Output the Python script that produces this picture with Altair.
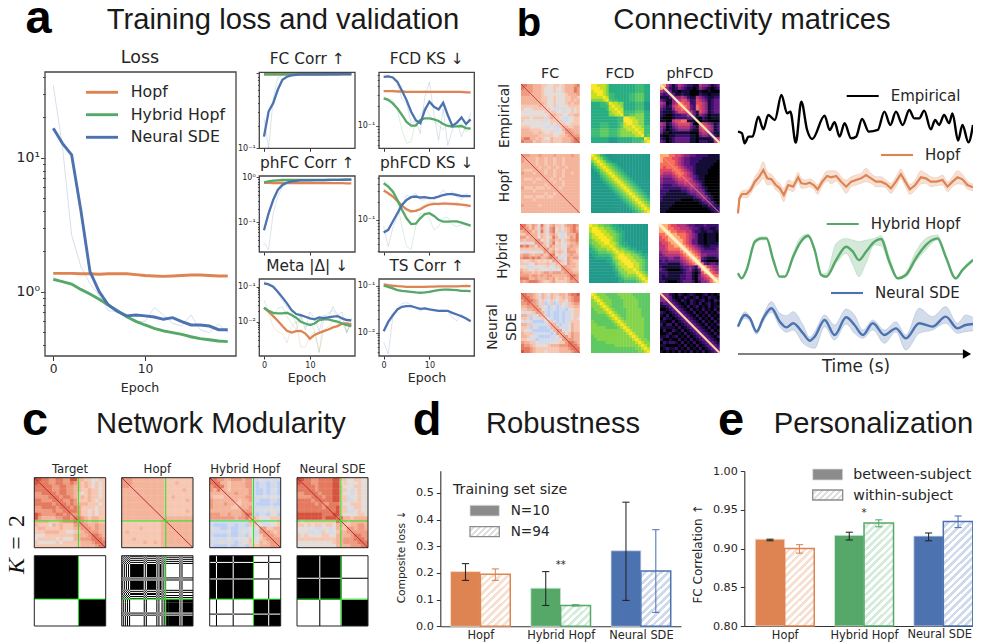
import altair as alt

ORANGE, GREEN, BLUE = "#dd8452", "#55a868", "#4c72b0"
PALE = {ORANGE: "#f8e0d1", GREEN: "#d5ebdb", BLUE: "#cfdaec", "#8c8c8c": "#e0e0e0"}
SANS, HEAD = "DejaVu Sans", "Liberation Sans"

epochs = list(range(20))

# ---- panel a: loss ----
loss_hopf = [1.37,1.37,1.37,1.36,1.36,1.35,1.36,1.36,1.36,1.34,1.32,1.31,1.30,1.31,1.32,1.33,1.33,1.32,1.31,1.31]
loss_hyb = [1.236,1.19,1.14,1.04,0.96,0.877,0.795,0.72,0.65,0.6,0.564,0.533,0.509,0.494,0.48,0.461,0.446,0.438,0.428,0.424]
loss_ns = [16.6,12.8,10.5,4.07,1.41,1.0,0.795,0.71,0.66,0.67,0.66,0.647,0.622,0.64,0.597,0.564,0.564,0.554,0.52,0.52]
loss_ns_raw = [34.8,12.1,2.65,1.54,1.15,0.94,0.72,0.71,0.65,0.6,0.6,0.76,0.67,0.58,0.554,0.67,0.52,0.494,0.574,0.494]
loss_hyb_raw = [1.3,1.18,1.12,1.03,0.95,0.87,0.79,0.71,0.65,0.59,0.56,0.53,0.5,0.49,0.48,0.45,0.44,0.43,0.42,0.43]
loss_hopf_raw = [1.38,1.36,1.38,1.35,1.35,1.33,1.37,1.36,1.36,1.33,1.29,1.32,1.29,1.31,1.33,1.33,1.34,1.31,1.32,1.30]

# ---- panel a: validation metrics (smoothed / raw) ----
fc_ns = [0.143,0.308,0.398,0.6,0.815,0.893,0.931,0.95,0.96,0.96,0.96,0.96,0.96,0.965,0.965,0.965,0.965,0.97,0.97,0.97]
fc_ns_raw = [0.25,0.1,0.45,0.87,0.93,0.97,0.96,0.95,0.97,0.96,0.95,0.94,0.96,0.97,0.96,0.97,0.96,0.98,0.97,0.97]
fc_hopf = [0.965]*20
fc_hyb = [0.96,0.96,0.96,0.96,0.96,0.96,0.96,0.96,0.96,0.96,0.96,0.96,0.96,0.96,0.97,0.97,0.97,0.97,0.97,0.97]

fcd_ns = [0.562,0.57,0.55,0.471,0.343,0.247,0.164,0.122,0.109,0.174,0.233,0.195,0.178,0.225,0.146,0.099,0.111,0.134,0.106,0.125]
fcd_ns_raw = [0.56,0.6,0.53,0.44,0.26,0.22,0.11,0.12,0.076,0.277,0.47,0.146,0.06,0.18,0.05,0.086,0.12,0.068,0.1,0.158]
fcd_hopf = [0.34,0.34,0.34,0.335,0.335,0.33,0.33,0.33,0.33,0.33,0.33,0.33,0.33,0.33,0.33,0.33,0.33,0.33,0.325,0.325]
fcd_hopf_raw = [0.35,0.33,0.36,0.33,0.35,0.32,0.34,0.33,0.32,0.34,0.33,0.32,0.34,0.33,0.32,0.34,0.33,0.32,0.33,0.32]
fcd_hyb = [0.262,0.25,0.22,0.184,0.146,0.114,0.1,0.1,0.122,0.13,0.13,0.125,0.118,0.106,0.099,0.097,0.098,0.099,0.092,0.09]
fcd_hyb_raw = [0.28,0.26,0.25,0.17,0.086,0.054,0.057,0.12,0.146,0.195,0.146,0.122,0.1,0.086,0.108,0.097,0.097,0.108,0.081,0.094]

phfc_ns = [0.067,0.158,0.313,0.523,0.676,0.76,0.815,0.83,0.857,0.86,0.86,0.865,0.87,0.87,0.875,0.875,0.88,0.88,0.885,0.887]
phfc_ns_raw = [0.035,0.025,0.158,0.37,0.62,0.74,0.82,0.84,0.86,0.85,0.87,0.86,0.88,0.87,0.88,0.87,0.89,0.88,0.89,0.88]
phfc_hopf = [0.75,0.75,0.748,0.748,0.748,0.745,0.745,0.745,0.745,0.745,0.74,0.74,0.74,0.74,0.74,0.74,0.74,0.74,0.736,0.736]
phfc_hyb = [0.775,0.815,0.843,0.857,0.873,0.873,0.873,0.873,0.873,0.873,0.873,0.873,0.873,0.873,0.873,0.88,0.88,0.887,0.887,0.887]

phfcd_ns = [0.0615,0.068,0.094,0.129,0.178,0.215,0.239,0.245,0.236,0.239,0.23,0.232,0.245,0.26,0.268,0.268,0.26,0.25,0.248,0.248]
phfcd_ns_raw = [0.077,0.036,0.073,0.114,0.167,0.26,0.24,0.278,0.215,0.215,0.245,0.215,0.245,0.317,0.26,0.297,0.245,0.215,0.278,0.245]
phfcd_hopf = [0.308,0.278,0.245,0.207,0.173,0.15,0.139,0.141,0.15,0.167,0.18,0.185,0.185,0.187,0.187,0.185,0.182,0.18,0.176,0.17]
phfcd_hopf_raw = [0.34,0.26,0.25,0.2,0.16,0.14,0.13,0.15,0.16,0.18,0.2,0.2,0.17,0.2,0.18,0.17,0.2,0.18,0.16,0.17]
phfcd_hyb = [0.408,0.359,0.297,0.215,0.147,0.106,0.085,0.086,0.106,0.125,0.129,0.116,0.1,0.093,0.093,0.094,0.094,0.09,0.085,0.08]
phfcd_hyb_raw = [0.46,0.4,0.245,0.19,0.077,0.036,0.032,0.077,0.129,0.129,0.106,0.068,0.077,0.106,0.11,0.083,0.077,0.083,0.083,0.077]

meta_ns = [0.1245,0.116,0.1,0.072,0.0496,0.0334,0.0215,0.0166,0.0155,0.0139,0.01245,0.0117,0.0133,0.0127,0.0133,0.0139,0.0145,0.01245,0.0112,0.0109]
meta_ns_raw = [0.14,0.125,0.1,0.064,0.04,0.026,0.019,0.0088,0.0155,0.0058,0.019,0.0127,0.0053,0.0155,0.0127,0.027,0.0155,0.019,0.0046,0.0127]
meta_hopf = [0.025,0.0193,0.0145,0.0107,0.0075,0.0055,0.0049,0.0054,0.0055,0.0046,0.0033,0.0042,0.0048,0.0054,0.006,0.0069,0.0075,0.0088,0.009,0.0084]
meta_hopf_raw = [0.027,0.0173,0.0072,0.0052,0.0046,0.0025,0.0072,0.01,0.0019,0.0019,0.0039,0.0052,0.0014,0.0058,0.0072,0.01,0.009,0.0134,0.0052,0.0084]
meta_hyb = [0.025,0.0206,0.018,0.0173,0.0173,0.018,0.0155,0.013,0.01,0.0089,0.008,0.0089,0.0111,0.0117,0.0117,0.0107,0.01,0.0089,0.008,0.0075]
meta_hyb_raw = [0.042,0.0193,0.0155,0.0241,0.027,0.0139,0.009,0.0058,0.0139,0.0072,0.009,0.0058,0.0013,0.0139,0.0173,0.0215,0.0139,0.009,0.0052,0.009]

ts_ns = [0.0109,0.0171,0.0237,0.0314,0.0357,0.0369,0.0369,0.0346,0.0324,0.033,0.0314,0.0304,0.0294,0.0294,0.0294,0.0266,0.0246,0.0226,0.0202,0.0177]
ts_ns_raw = [0.0064,0.0036,0.022,0.034,0.042,0.044,0.039,0.033,0.029,0.033,0.031,0.031,0.03,0.031,0.029,0.021,0.018,0.025,0.021,0.018]
ts_hopf = [0.107,0.103,0.1,0.098,0.097,0.095,0.095,0.095,0.095,0.095,0.096,0.096,0.097,0.097,0.097,0.097,0.097,0.098,0.099,0.098]
ts_hyb = [0.1,0.095,0.088,0.081,0.078,0.076,0.074,0.072,0.071,0.072,0.074,0.078,0.081,0.083,0.083,0.082,0.081,0.078,0.078,0.077]
ts_hyb_raw = [0.105,0.09,0.085,0.08,0.075,0.08,0.07,0.075,0.07,0.07,0.08,0.075,0.085,0.08,0.09,0.08,0.08,0.075,0.08,0.07]

# ---- panel b: time series (t in s, arbitrary amplitude) ----
emp_t = [0,2,3.3,5.3,7.3,10.2,12.7,15.2,18.5,21.8,24.7,26.3,29,31.8,34.7,37.3,43.5,46,48.5,51,53.5,56.8,59.3,62.3,65.7,70.2,73.5,76.5,79.3,82.7,86,88.5,91,93.5,96.8,99,101,103.5,106,107.7,110.5,112.7,115.7,118]
emp_v = [.35,.30,0,.2,.2,.8,.42,.85,.7,1.45,.9,.95,.02,1.25,.4,.13,.83,.4,.63,.2,.6,.15,.2,.73,.35,.4,.95,.55,.95,.55,1.0,.75,.75,.98,.42,.7,.55,.85,.6,.9,.08,.55,.03,.55]
hopf_t = [0,.7,2,4.3,6.3,8.5,10.7,12.7,14.7,16.8,19,21,23,25.2,27.7,30.2,31.8,34,36,38,40,42.3,44.7,46.8,49.3,51.8,54.3,56.8,59.3,61.8,64.3,66.8,69.3,71.8,74.3,76.8,79.3,81.8,84,86.3,89,91.8,94.3,96.8,99.7,102.7,105.2,107.7,110.2,112.7,115.2,118]
hopf_v = [0,.45,.58,.58,.7,.95,1.1,1.3,1.05,1.02,.85,.75,.55,.85,.8,1.08,.9,.88,.92,.85,.72,.95,1.12,1.08,1.12,.95,.8,.95,1.0,1.05,1.15,1.05,.95,.95,.88,.75,.95,1.18,.95,.72,.85,1.08,1.05,.95,.95,1.0,.8,.95,1.08,1.02,.85,.78]
hopf_b = [0,.1,.1,.12,.12,.15,.2,.25,.2,.15,.15,.15,.2,.15,.15,.15,.15,.12,.12,.12,.15,.12,.15,.2,.15,.15,.2,.15,.15,.15,.2,.15,.15,.15,.12,.15,.15,.15,.15,.15,.15,.2,.15,.15,.12,.15,.15,.15,.2,.15,.12,.1]
hyb_t = [0,1.8,4.3,8.5,11.8,14.3,17.7,21,23.5,27.7,31,35.2,38.5,41.8,44.3,49.3,54.3,57.7,60.7,64.3,68.5,71.8,76,80.2,84.3,89.3,94.3,100.2,104.3,109.3,112.7,118]
hyb_v = [.2,.05,.3,1.15,1.25,1.25,.6,.1,.1,.7,1.1,1.33,.9,.15,.1,.6,1.0,.85,.6,.85,1.15,1.23,.55,.05,.15,.65,1.05,1.25,.7,.05,.3,.6]
hyb_hi = [.03,.03,.03,.05,.05,.05,.05,.03,.03,.1,.15,.05,.05,.03,.1,.5,.25,.35,.55,.35,.1,.1,.15,.03,.08,.2,.2,.1,.05,.03,.05,.05]
hyb_lo = [.03,.03,.03,.05,.05,.05,.05,.03,.03,.05,.05,.05,.05,.03,.03,.1,.2,.4,.5,.35,.1,.2,.1,.03,.05,.1,.15,.05,.05,.03,.05,.05]
ns_t = [0,3.5,6,9.3,12.7,16.8,21,24.3,27.7,32.7,36,38.5,43.5,48.5,54.3,58.5,62.7,67.7,73.5,79.3,84.3,91,97.7,104.3,110.2,114.3,118]
ns_v = [.6,.95,.85,.45,.85,1.15,.75,.58,.7,.4,.18,.3,.8,.35,.88,.65,.35,.7,.35,.55,.25,.7,.6,.9,.55,.65,.68]
ns_hi = [.03,.1,.05,.05,.1,.2,.25,.35,.35,.25,.1,.15,.15,.3,.25,.3,.15,.1,.15,.2,.1,.45,.3,.3,.15,.3,.2]
ns_lo = [.03,.1,.1,.08,.1,.12,.15,.15,.2,.3,.2,.35,.2,.15,.2,.25,.1,.2,.25,.1,.35,.3,.1,.2,.15,.2,.2]

# ---- panel b: matrices, upper triangles as digit levels 0-9 ----
fc_emp = ["96554443322332344456","9554443222322344465","954443222322344465","94443222222234445","9443322322233443",
 "943322322233434","94322322234344","9322312223333","932112122323","93322122323","9433223344","932112233","93112233","9322333","943344","95444","9544","955","96","9"]
fc_hopf_m = ["95544454444544444544","9444344344344344444","944344344344344444","94344344344344444","9434434434434444",
 "944344344344444","94344344344344","9444344344444","943443444444","94344344444","9444344444","943444444","94444444","9444444","944444","94444","9444","944","94","9"]
fc_hyb_m = ["96435426324533245565","9535315325623234564","953426315623134565","94424324532124446","9424323642123546",
 "952324534234556","95314623213445","9425433224544","953423125443","94534325553","9623214544","951125455","94315433","9325443","954443","95433","9544","965","95","9"]
fc_ns_m = ["96554324324334435667","9654314314323434566","965423123123324566","95413013013213455","9531201201213344",
 "952101101102233","94101001011233","9301001011233","921001011232","93101011333","9410112433","941112433","95212433","9423544","953544","95544","9654","965","96","9"]
fcd_emp = ["99888744444444455544","9988744444444455544","998744444444455544","98755444445566644","9855444445566644","965544445566644",
 "98877444455533","9887444455533","988444455533","98555566644","9556677744","998877744","99887744","9887744","988755","98855","9855","956","98","9"]
fcd_hopf_m = ["98754333333333333333","9875433333333333333","987543333333333333","98765433333333333","9876543333333333","987654333333333",
 "98765433333333","9876543333333","987654333333","98765433333","9876543333","987654333","98765433","9876543","987654","98765","9876","987","98","9"]
fcd_hyb_m = ["98877665443333333333","9988776544333333333","998877654433333333","99887765433333333","9988765433333333","998765433333333",
 "98875443333333","9876544333333","987765443333","98877654433","9988776544","998877654","99887765","9988765","988765","98765","9876","987","98","9"]
fcd_ns_m = ["98777666677777666666","9877766667777766666","987776666777776666","98776666777776666","9876666777776666","987666677777666",
 "98766677777666","9876677777666","987677777766","98777777766","9877777766","987777766","98777766","9877766","987766","98776","9877","987","98","9"]
ph_emp = ["98531354322115443123","9421243211014321012","93110111000100100","9311211000211011","944542115432112","95664226543123",
 "9766226654123","976327654123","96327654123","9531654123","731432011","9102101","90110000","96543123","9654123","954123","93112","9211","95","9"]
ph_hopf_m = ["98877665443322221111","9776654332222111111","977654332221111110","97654332211111100","9765433211111000","976543211110000",
 "97654211110000","9654321100000","965321100000","95432100000","9543100000","943210000","94310000","9421000","942100","93100","9310","921","82","8"]
ph_hyb_m = ["98876655543322232222","9877665554332122112","987766655322112211","98877765431101110","9887765431101110","988765331101110",
 "98765331101111","9876543211222","987654322223","98765333333","9876443333","987321112","98210000","9732332","986544","98654","9765","977","98","9"]
ph_ns_m = ["94421021012100120101","9431010210120102110","932102102101201021","93210102102012010","9321020120102011","932102010201020",
 "93210201020102","9321020102010","932102010201","93210201020","9321020102","932102010","93210201","9321020","932102","93210","9321","932","93","9"]
# ---- panel c: FC ordered by module, then binary same-module matrix ----
ct_target = ["97665566557744332233","9665566556543432323","966556655443432323","96556655443343323","9656655432343323","965665434343323",
 "96556533343233","9656544433323","965653333233","96653323233","9553323233","965434433","95434433","9544544","954544","95544","9654","965","96","9"]
ct_hopf = ["95544444444433333333","9544444444433343333","944444444433333333","94444444433333433","9444444433333333","944444433433333",
 "94444433333343","9444433333333","944433333333","94433333343","9433333333","944444444","94444444","9444444","944444","94444","9444","944","94","9"]
ct_hyb = ["96554455545511211211","9644344445510110110","964344445510110110","94344444510010120","9445444510010110","944445511121221",
 "94344511000110","9344410000100","944511111211","95511121221","9610110220","943222333","93111223","9211223","953344","95434","9544","955","95","9"]
ct_ns = ["97665566667733223322","9665566667723222322","966566667732223322","96566667733212322","9656667732212322","965667733122322",
 "96667733112322","9566632233322","966733223322","96733112322","9732222332","964434444","94344444","9344554","954554","95555","9655","965","96","9"]
# run lengths (nodes) and module of each run along the ordered axis
bin_target = [(42,0),(26,1)]
bin_hopf = [(1,0),(1,1),(1,0),(1,1),(1,0),(1,1),(1,0),(1,1),(13,0),(1,1),(1,0),(1,1),(9,0),(1,1),(1,0),(1,1),(2,0),(1,1),(1,0),(1,1),(1,0),(3,1),(10,1),(1,0),(1,1),(1,0),(10,1)]
bin_hyb = [(6,0),(1,1),(15,0),(1,1),(19,0),(14,1),(1,0),(11,1)]
bin_ns = [(21,0),(1,1),(20,0),(25,1)]

# ---- panels d, e ----
cats = ["Hopf", "Hybrid Hopf", "Neural SDE"]
d_n10 = [0.205, 0.143, 0.283]
d_n94 = [0.195, 0.078, 0.207]
d_n10_lo = [0.172, 0.078, 0.097]
d_n10_hi = [0.235, 0.205, 0.465]
d_n94_lo = [0.172, 0.076, 0.052]
d_n94_hi = [0.215, 0.081, 0.362]
e_bt = [0.912, 0.917, 0.916]
e_wi = [0.900, 0.933, 0.935]
e_bt_lo = [0.910, 0.911, 0.910]
e_bt_hi = [0.912, 0.921, 0.920]
e_wi_lo = [0.894, 0.928, 0.927]
e_wi_hi = [0.905, 0.937, 0.942]

layers = []
def px(v): return v - 8
def py(v): return v - 8
W, H = 965, 636

def text(s, x, y, size, font=SANS, weight="normal", angle=0, align="center", baseline="middle", color="#262626", style="normal"):
    layers.append(alt.Chart(alt.Data(values=[{"a": 0}])).mark_text(
        text=s, font=font, fontSize=size, fontWeight=weight, angle=angle, align=align,
        baseline=baseline, color=color, fontStyle=style
    ).encode(x=alt.value(px(x)), y=alt.value(py(y))))

def hrule(x0, x1, y, color, width):
    layers.append(alt.Chart(alt.Data(values=[{"a": 0}])).mark_rule(color=color, strokeWidth=width).encode(
        x=alt.value(px(x0)), x2=alt.value(px(x1)), y=alt.value(py(y))))

def frame(x0, x1, y0, y1, color="#444444", width=1.3):
    layers.append(alt.Chart(alt.Data(values=[{"a": 0}])).mark_rect(fillOpacity=0, stroke=color, strokeWidth=width).encode(
        x=alt.value(px(x0)), x2=alt.value(px(x1)), y=alt.value(py(y0)), y2=alt.value(py(y1))))

def xs(dom, x0, x1):
    return alt.Scale(domain=dom, range=[px(x0), px(x1)], nice=False, zero=False)
def ylog(dom, y0, y1):
    return alt.Scale(type="log", domain=dom, range=[py(y0), py(y1)], nice=False, clamp=True)
def ylin(dom, y0, y1):
    return alt.Scale(domain=dom, range=[py(y0), py(y1)], nice=False, zero=False)

def line(t, v, color, sx, sy, width=2, opacity=1.0, interp="linear", xaxis=None, yaxis=None):
    d = [{"x": a, "y": b} for a, b in zip(t, v)]
    layers.append(alt.Chart(alt.Data(values=d)).mark_line(color=color, strokeWidth=width, opacity=opacity, interpolate=interp).encode(
        x=alt.X("x:Q", scale=sx, axis=xaxis), y=alt.Y("y:Q", scale=sy, axis=yaxis)))

SUP = {10: "10¹", 1: "10⁰", 0.1: "10⁻¹", 0.01: "10⁻²"}
def log_axis(x_px, major, minor, labels, size, big, small):
    lab = ":".join(f"datum.value=={k}?'{SUP[k]}'" for k in labels) + ":''" if labels else "''"
    test = "abs(log(datum.value)/LN10-round(log(datum.value)/LN10))<0.001"
    return alt.Axis(orient="left", offset=-px(x_px), values=major + minor, labelExpr=lab, title=None, grid=False,
                    domain=False, labelFont=SANS, labelFontSize=size, labelColor="#262626", tickColor="#333333",
                    tickWidth=0.9, labelPadding=1, labelFlush=False, labelOverlap=False,
                    tickSize={"condition": {"test": test, "value": big}, "value": small})
def epoch_axis(y_px, show, size, tick, vals=(0, 10)):
    return alt.Axis(orient="bottom", offset=py(y_px) - H, values=list(vals), labels=show, title=None, grid=False,
                    domain=False, labelFont=SANS, labelFontSize=size, labelColor="#262626", tickColor="#333333",
                    tickWidth=1, tickSize=tick, labelPadding=2, format="d")

def panel(x0, x1, y0, y1, xdom, ydom, series, xlabels, major, minor, labels, title, lsize=8):
    sx = xs(xdom, x0, x1)
    sy = ylog(ydom, y1, y0)
    for v, c in series["raw"]:
        line(epochs, v, c, sx, sy, width=0.8, opacity=0.25)
    first = True
    for v, c in series["main"]:
        if first:
            line(epochs, v, c, sx, sy, width=2.3, xaxis=epoch_axis(y1, xlabels, lsize, 3),
                 yaxis=log_axis(x0, major, minor, labels, lsize, 3.2, 1.8))
            first = False
        else:
            line(epochs, v, c, sx, sy, width=2.3)
    frame(x0, x1, y0, y1)
    text(title, (x0 + x1) / 2, y0 - 13, 15.4)

# ---- a ----
text("a", 38.5, 33, 47, HEAD, "bold", baseline="alphabetic", color="#000000")
text("Training loss and validation", 283, 28.5, 29.2, HEAD, baseline="alphabetic", color="#1a1a1a")
sx = xs([-0.9, 19.9], 45, 236)
sy = ylog([0.331, 43.6], 356, 72)
for v, c in [(loss_hopf_raw, ORANGE), (loss_hyb_raw, GREEN), (loss_ns_raw, BLUE)]:
    line(epochs, v, c, sx, sy, width=0.9, opacity=0.25)
line(epochs, loss_hopf, ORANGE, sx, sy, width=2.9,
     xaxis=epoch_axis(356, True, 12.3, 4.5),
     yaxis=log_axis(45, [1, 10], [.4, .5, .6, .7, .8, .9, 2, 3, 4, 5, 6, 7, 8, 9, 20, 30, 40], [1, 10], 14, 4.5, 2.5))
line(epochs, loss_hyb, GREEN, sx, sy, width=2.9)
line(epochs, loss_ns, BLUE, sx, sy, width=2.9)
frame(45, 236, 72, 356)
text("Loss", 140, 58, 17.5)
text("Epoch", 140, 388, 12.6)
for name, c, yy in [("Hopf", ORANGE, 92.3), ("Hybrid Hopf", GREEN, 114.7), ("Neural SDE", BLUE, 137.3)]:
    hrule(86, 118, yy, c, 2.9)
    text(name, 130.7, yy, 15.8, align="left")

c1 = (259.3, 355); c2 = (379, 474.3)
xd = [-1.02, 19.8]
panel(*c1, 72.3, 148.3, xd, [0.1, 1.024], dict(raw=[(fc_ns_raw, BLUE)], main=[(fc_hopf, ORANGE), (fc_hyb, GREEN), (fc_ns, BLUE)]),
      False, [0.1, 1], [.2, .3, .4, .5, .6, .7, .8, .9], [0.1], "FC Corr ↑")
panel(*c2, 72.3, 148.3, xd, [0.045, 0.66], dict(raw=[(fcd_hopf_raw, ORANGE), (fcd_hyb_raw, GREEN), (fcd_ns_raw, BLUE)], main=[(fcd_hopf, ORANGE), (fcd_hyb, GREEN), (fcd_ns, BLUE)]),
      False, [0.1], [.05, .06, .07, .08, .09, .2, .3, .4, .5, .6], [0.1], "FCD KS ↓")
panel(*c1, 176, 252, xd, [0.022, 1.07], dict(raw=[(phfc_ns_raw, BLUE)], main=[(phfc_hopf, ORANGE), (phfc_hyb, GREEN), (phfc_ns, BLUE)]),
      False, [0.1, 1], [.03, .04, .05, .06, .07, .08, .09, .2, .3, .4, .5, .6, .7, .8, .9], [1, 0.1], "phFC Corr ↑")
panel(*c2, 176, 252, xd, [0.029, 0.54], dict(raw=[(phfcd_hopf_raw, ORANGE), (phfcd_hyb_raw, GREEN), (phfcd_ns_raw, BLUE)], main=[(phfcd_hopf, ORANGE), (phfcd_hyb, GREEN), (phfcd_ns, BLUE)]),
      False, [0.1], [.03, .04, .05, .06, .07, .08, .09, .2, .3, .4, .5], [0.1], "phFCD KS ↓")
panel(*c1, 279, 356, xd, [0.00105, 0.166], dict(raw=[(meta_hopf_raw, ORANGE), (meta_hyb_raw, GREEN), (meta_ns_raw, BLUE)], main=[(meta_hopf, ORANGE), (meta_hyb, GREEN), (meta_ns, BLUE)]),
      True, [0.01, 0.1], [.002, .003, .004, .005, .006, .007, .008, .009, .02, .03, .04, .05, .06, .07, .08, .09], [0.1, 0.01], "Meta |Δ| ↓")
panel(*c2, 279, 356, xd, [0.00324, 0.139], dict(raw=[(ts_hyb_raw, GREEN), (ts_ns_raw, BLUE)], main=[(ts_hopf, ORANGE), (ts_hyb, GREEN), (ts_ns, BLUE)]),
      True, [0.01, 0.1], [.004, .005, .006, .007, .008, .009, .02, .03, .04, .05, .06, .07, .08, .09], [0.1, 0.01], "TS Corr ↑")
text("Epoch", 307, 378, 12.6)
text("Epoch", 427, 378, 12.6)

# ---- heatmaps ----
FC_R = ["#bcd0f5", "#d3daea", "#e4dcd8", "#f6c8b3", "#f4b49b", "#ee9c81", "#e47a60", "#d4543f", "#bf2a2e", "#a50f26"]
VIR_R = ["#2c728e", "#28828e", "#21908d", "#219a8a", "#27ad81", "#3cbb75", "#5ec962", "#84d44b", "#c5e021", "#fde725"]
MAG_R = ["#000004", "#140e36", "#3b0f70", "#641a80", "#8c2981", "#b73779", "#de4968", "#f7705c", "#feb078", "#fcfdbf"]
def expand(rows, n=20):
    m = [[0] * n for _ in range(n)]
    for i, r in enumerate(rows[:n]):
        r = (r + r[-1] * n)[:n - i]
        for k, ch in enumerate(r):
            m[i][i + k] = m[i + k][i] = int(ch)
    return m

def heat(rows, x0, x1, y0, y1, pal, diag=None, n=20, dw=0.9):
    m = expand(rows, n)
    if diag:
        for i in range(n):
            m[i][i] = m[i][min(i + 1, n - 1)] if i < n - 1 else m[i][i - 1]
    cells = [{"i": i, "j": j, "i2": i + 1.12, "j2": j + 1.12, "v": m[j][i]} for i in range(n) for j in range(n)]
    sx = alt.Scale(domain=[0, n], range=[px(x0), px(x1)], nice=False, zero=False, clamp=True)
    sy = alt.Scale(domain=[0, n], range=[py(y0), py(y1)], nice=False, zero=False, clamp=True)
    layers.append(alt.Chart(alt.Data(values=cells)).mark_rect(strokeWidth=0).encode(
        x=alt.X("i:Q", scale=sx, axis=None), x2="i2:Q",
        y=alt.Y("j:Q", scale=sy, axis=None), y2="j2:Q",
        color=alt.Color("v:Q", scale=alt.Scale(domain=list(range(10)), range=pal), legend=None)))
    if diag:
        sx2 = alt.Scale(domain=[0, n], range=[px(x0), px(x1)], nice=False, zero=False)
        sy2 = alt.Scale(domain=[0, n], range=[py(y0), py(y1)], nice=False, zero=False)
        line([0, n], [0, n], diag, sx2, sy2, width=dw)

cols_b = [(521, 579.7), (591, 650), (660, 719.7)]
rows_b = [(84, 143), (154, 213), (224, 283), (293, 353)]
mats_b = [[fc_emp, fcd_emp, ph_emp], [fc_hopf_m, fcd_hopf_m, ph_hopf_m], [fc_hyb_m, fcd_hyb_m, ph_hyb_m], [fc_ns_m, fcd_ns_m, ph_ns_m]]
ph_diag = [("#fbe6b4", 2.4), ("#f59a78", 0.9), ("#fcefc4", 3.2), ("#fbd9a0", 2.0)]
for ri, (y0, y1) in enumerate(rows_b):
    for ci, ((x0, x1), pal) in enumerate(zip(cols_b, [FC_R, VIR_R, MAG_R])):
        dx = (-1 if ci == 0 else -2 if ci == 1 else -1) if ri == 2 else 0
        dg, dw = ("#c2303a", 0.9) if ci == 0 else (ph_diag[ri] if ci == 2 else (None, 0.9))
        heat(mats_b[ri][ci], x0 + dx, x1 + dx, y0, y1, pal, diag=dg, dw=dw)

text("b", 529, 36, 40, HEAD, "bold", baseline="alphabetic", color="#000000")
text("Connectivity matrices", 752, 28.5, 29.2, HEAD, baseline="alphabetic", color="#1a1a1a")
for s, x in [("FC", 550), ("FCD", 620), ("phFCD", 690)]:
    text(s, x, 74, 14.2)
text("Empirical", 505, 116, 13.8, angle=270)
text("Hopf", 505, 186, 13.8, angle=270)
text("Hybrid", 503, 256, 13.8, angle=270)
text("Neural", 493, 327, 13.8, angle=270)
text("SDE", 511.5, 327, 13.8, angle=270)

# ---- time series ----
tx = xs([0, 118], 738, 973)
line(emp_t, emp_v, "#000000", tx, ylin([0, 1], 143.3, 110), width=2.4, interp="monotone")
def band(t, v, lo, hi, color, y0, y1):
    sy = ylin([0, 1], y0, y1)
    d = [{"x": a, "lo": b - l, "hi": b + h} for a, b, l, h in zip(t, v, lo, hi)]
    layers.append(alt.Chart(alt.Data(values=d)).mark_area(color=color, opacity=0.25, interpolate="monotone").encode(
        x=alt.X("x:Q", scale=tx, axis=None), y=alt.Y("lo:Q", scale=sy, axis=None), y2="hi:Q"))
    line(t, [r["lo"] for r in d], color, tx, sy, width=0.5, opacity=0.4, interp="monotone")
    line(t, [r["hi"] for r in d], color, tx, sy, width=0.5, opacity=0.4, interp="monotone")
    return sy
sy = band(hopf_t, hopf_v, hopf_b, hopf_b, ORANGE, 213.3, 180)
line(hopf_t, hopf_v, ORANGE, tx, sy, width=2.2)
sy = band(hyb_t, hyb_v, hyb_lo, hyb_hi, GREEN, 280, 246.7)
line(hyb_t, hyb_v, GREEN, tx, sy, width=2.4, interp="monotone")
sy = band(ns_t, ns_v, ns_lo, ns_hi, BLUE, 346.7, 313.3)
line(ns_t, ns_v, BLUE, tx, sy, width=2.4, interp="monotone")
for name, c, x0, yy in [("Empirical", "#000000", 846.7, 96), ("Hopf", ORANGE, 881, 155), ("Hybrid Hopf", GREEN, 826.7, 224), ("Neural SDE", BLUE, 831, 293)]:
    hrule(x0, x0 + 32, yy, c, 2.1)
    text(name, x0 + 44, yy, 15, align="left")
hrule(738, 968, 354, "#000000", 1.2)
layers.append(alt.Chart(alt.Data(values=[{"a": 0}])).mark_point(shape="triangle-right", filled=True, color="#000000", size=90, opacity=1).encode(
    x=alt.value(px(967)), y=alt.value(py(354))))
text("Time (s)", 856, 366.5, 16.8)

# ---- c ----
text("c", 35, 435, 47, HEAD, "bold", baseline="alphabetic", color="#000000")
text("Network Modularity", 221, 433, 29.2, HEAD, baseline="alphabetic", color="#1a1a1a")
cols_c = [(34.3, 105.7), (121.7, 193), (209.7, 280.7), (297, 368)]
fc_c = [ct_target, ct_hopf, ct_hyb, ct_ns]
bins = [bin_target, bin_hopf, bin_hyb, bin_ns]
names = ["Target", "Hopf", "Hybrid Hopf", "Neural SDE"]
for (x0, x1), m, runs, nm in zip(cols_c, fc_c, bins, names):
    heat(m, x0, x1, 477.7, 547.7, FC_R, diag="#b2182b")
    N = sum(r[0] for r in runs)
    pos = 0; spans = []
    for ln, mod in runs:
        spans.append((pos, pos + ln, mod)); pos += ln
    rects = [{"a": a[0], "a2": a[1], "b": b[0], "b2": b[1]} for a in spans for b in spans if a[2] == b[2]]
    sxb = alt.Scale(domain=[0, N], range=[px(x0), px(x1)], nice=False, zero=False)
    syb = alt.Scale(domain=[0, N], range=[py(555.7), py(626)], nice=False, zero=False)
    layers.append(alt.Chart(alt.Data(values=rects)).mark_rect(color="#000000", strokeWidth=0).encode(
        x=alt.X("a:Q", scale=sxb, axis=None), x2="a2:Q", y=alt.Y("b:Q", scale=syb, axis=None), y2="b2:Q"))
    split = 42
    for (ya, yb) in [(477.7, 547.7), (555.7, 626)]:
        sy_g = alt.Scale(domain=[0, 68], range=[py(ya), py(yb)], nice=False, zero=False)
        sx_g = alt.Scale(domain=[0, 68], range=[px(x0), px(x1)], nice=False, zero=False)
        seg = [{"x": split, "x2": split, "y": 0, "y2": 68}, {"x": 0, "x2": 68, "y": split, "y2": split}]
        layers.append(alt.Chart(alt.Data(values=seg)).mark_rule(color="#22e622", strokeWidth=1).encode(
            x=alt.X("x:Q", scale=sx_g, axis=None), x2="x2:Q", y=alt.Y("y:Q", scale=sy_g, axis=None), y2="y2:Q"))
        frame(x0, x1, ya, yb, color="#222222", width=1.0)
    text(nm, (x0 + x1) / 2, 468.5, 11.7)
text("K", 17, 566, 24, "Liberation Serif", angle=270, style="italic", color="#111111")
text("=", 17, 543, 24, "Liberation Serif", angle=270, color="#111111")
text("2", 17, 521, 24, "Liberation Serif", angle=270, color="#111111")

# ---- bars ----
def hatch(Wd, Ht, color, P=7.5):
    k = (Wd + Ht) / (Wd ** 2 + Ht ** 2)
    step = P / (Wd + Ht)
    stops = []
    t = 0.0
    while t < 1:
        a, b, c = t, min(t + step / 2, 1), min(t + step, 1)
        stops += [{"offset": a, "color": "#ffffff"}, {"offset": b, "color": "#ffffff"},
                  {"offset": b, "color": color}, {"offset": c, "color": color}]
        t += step
    return {"gradient": "linear", "x1": 0, "y1": 0, "x2": k * Wd, "y2": k * Ht, "stops": stops}

def bar_panel(xa, xb, xdom, ya, yb, ydom, ticks, fmt, a_vals, b_vals, a_lo, a_hi, b_lo, b_hi, cap_size, tsize, lab_expr):
    sx = xs(xdom, xa, xb)
    sy = ylin(ydom, yb, ya)
    y_ax = alt.Axis(orient="left", offset=-px(xa), values=ticks, format=fmt, title=None, grid=False, domain=True,
                    domainColor="#333333", domainWidth=1.1, tickColor="#333333", tickSize=4, tickWidth=1,
                    labelFont=SANS, labelFontSize=tsize, labelColor="#262626", labelPadding=3)
    x_ax = alt.Axis(orient="bottom", offset=py(yb) - H, values=[0, 1, 2], title=None, grid=False, domain=True,
                    domainColor="#333333", domainWidth=1.1, tickSize=0, labelFont=SANS, labelFontSize=11.4, labelColor="#262626",
                    labelPadding=3, labelExpr=lab_expr)
    first = True
    scale_px = (yb - ya) / (ydom[1] - ydom[0])
    wid = 0.372
    for i, c in enumerate([ORANGE, GREEN, BLUE]):
        d = [{"x": i - wid, "x2": i, "y": a_vals[i], "y2": ydom[0]}]
        enc = dict(x=alt.X("x:Q", scale=sx, axis=x_ax if first else None), x2="x2:Q",
                   y=alt.Y("y:Q", scale=sy, axis=y_ax if first else None), y2="y2:Q")
        layers.append(alt.Chart(alt.Data(values=d)).mark_rect(fill=c, stroke=PALE[c], strokeWidth=0.8).encode(**enc))
        first = False
        d = [{"x": i, "x2": i + wid, "y": b_vals[i], "y2": ydom[0]}]
        hgt = (b_vals[i] - ydom[0]) * scale_px
        layers.append(alt.Chart(alt.Data(values=d)).mark_rect(fill=hatch(29, hgt, PALE[c]), stroke=c, strokeWidth=1.5).encode(
            x=alt.X("x:Q", scale=sx, axis=None), x2="x2:Q", y=alt.Y("y:Q", scale=sy, axis=None), y2="y2:Q"))
    stems = []
    for i, c in enumerate([ORANGE, GREEN, BLUE]):
        stems.append((i - wid / 2, a_lo[i], a_hi[i], "#222222"))
        stems.append((i + wid / 2, b_lo[i], b_hi[i], c))
    for x, lo, hi, c in stems:
        d = [{"x": x, "x2": x, "y": lo, "y2": hi},
             {"x": x - cap_size, "x2": x + cap_size, "y": lo, "y2": lo},
             {"x": x - cap_size, "x2": x + cap_size, "y": hi, "y2": hi}]
        layers.append(alt.Chart(alt.Data(values=d)).mark_rule(color=c, strokeWidth=1.1, opacity=0.95).encode(
            x=alt.X("x:Q", scale=sx, axis=None), x2="x2:Q", y=alt.Y("y:Q", scale=sy, axis=None), y2="y2:Q"))

def patch(x0, x1, y0, y1, hatched):
    if hatched:
        layers.append(alt.Chart(alt.Data(values=[{"a": 0}])).mark_rect(fill=hatch(x1 - x0, y1 - y0, PALE["#8c8c8c"], 6), stroke="#8c8c8c", strokeWidth=1.3).encode(
            x=alt.value(px(x0)), x2=alt.value(px(x1)), y=alt.value(py(y0)), y2=alt.value(py(y1))))
    else:
        layers.append(alt.Chart(alt.Data(values=[{"a": 0}])).mark_rect(fill="#8c8c8c", stroke="#dddddd", strokeWidth=0.8).encode(
            x=alt.value(px(x0)), x2=alt.value(px(x1)), y=alt.value(py(y0)), y2=alt.value(py(y1))))

LAB3 = f"datum.value==0?'{cats[0]}':datum.value==1?'{cats[1]}':'{cats[2]}'"
LAB2 = f"datum.value==0?'{cats[0]}':datum.value==1?'{cats[1]}':''"

# d
text("d", 427, 435, 47, HEAD, "bold", baseline="alphabetic", color="#000000")
text("Robustness", 563, 433, 29.2, HEAD, baseline="alphabetic", color="#1a1a1a")
bar_panel(440.3, 681, [-0.5, 2.5], 470.7, 626.3, [0, 0.583], [0, .1, .2, .3, .4, .5], ".1f",
          d_n10, d_n94, d_n10_lo, d_n10_hi, d_n94_lo, d_n94_hi, 0.045, 11.2, LAB3)
text("Composite loss ↓", 402, 557, 10.6, angle=270)
text("**", 560.7, 565, 10)
text("Training set size", 453, 490, 14.2, align="left")
patch(470, 499.3, 505.3, 516, False)
patch(470, 499.3, 526.7, 536.7, True)
text("N=10", 510.7, 511, 13.6, align="left")
text("N=94", 510.7, 532, 13.6, align="left")

# e
text("e", 731, 435, 47, HEAD, "bold", baseline="alphabetic", color="#000000")
text("Personalization", 873.5, 433, 29.2, HEAD, baseline="alphabetic", color="#1a1a1a")
bar_panel(744.3, 979, [-0.51, 2.45], 471, 626, [0.80, 1.0], [.8, .85, .9, .95, 1.0], ".2f",
          e_bt, e_wi, e_bt_lo, e_bt_hi, e_wi_lo, e_wi_hi, 0.045, 11.2, LAB2)
text(cats[2], 972, 634.5, 11.4, align="right")
text("FC Correlation ↑", 698, 554, 12, angle=270)
text("*", 864, 513, 10)
patch(812.7, 842.7, 469, 480, False)
patch(812.7, 842.7, 490, 500, True)
text("between-subject", 853.3, 474.7, 14.2, align="left")
text("within-subject", 853.3, 495.7, 14.2, align="left")

chart = alt.layer(*layers).resolve_scale(x="independent", y="independent", color="independent").resolve_axis(
    x="independent", y="independent"
).properties(width=W, height=H, padding=0, autosize=alt.AutoSizeParams(type="none"), background="#ffffff").configure_view(stroke=None)

chart.save("out.html", embed_options={"renderer": "svg", "actions": False})
